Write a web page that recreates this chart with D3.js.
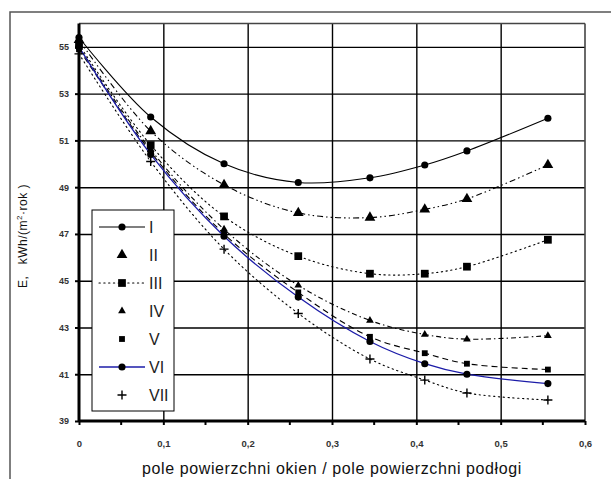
<!DOCTYPE html>
<html>
<head>
<meta charset="utf-8">
<script src="https://cdn.jsdelivr.net/npm/d3@7"></script>
<style>
  body { margin: 0; background: #fff; }
  svg { display: block; }
  text { font-family: Arial, "Liberation Sans", sans-serif; }
</style>
</head>
<body>
<div id="chart"></div>
<script>
// données
const xVals = [0, 0.085, 0.172, 0.26, 0.345, 0.41, 0.46, 0.556];
const seriesNames = ["I", "II", "III", "IV", "V", "VI", "VII"];
const sI   = [55.4, 52.0, 50.0, 49.2, 49.4, 49.95, 50.55, 51.95];
const sII  = [55.3, 51.4, 49.1, 47.9, 47.7, 48.05, 48.5, 49.95];
const sIII = [55.1, 50.8, 47.75, 46.05, 45.3, 45.3, 45.6, 46.75];
const sIV  = [55.0, 50.6, 47.2, 44.8, 43.3, 42.7, 42.5, 42.65];
const sV   = [54.9, 50.5, 47.0, 44.5, 42.6, 41.9, 41.45, 41.2];
const sVI  = [55.0, 50.4, 46.9, 44.3, 42.4, 41.45, 41.0, 40.6];
const sVII = [54.7, 50.1, 46.35, 43.6, 41.65, 40.75, 40.2, 39.9];
const yTicks = [39, 41, 43, 45, 47, 49, 51, 53, 55];
const xTicks = [0, 0.1, 0.2, 0.3, 0.4, 0.5, 0.6];
const xMinor = [0.05, 0.15, 0.25, 0.35, 0.45, 0.55];

const values = [sI, sII, sIII, sIV, sV, sVI, sVII];

// styles par série
const styles = [
  { stroke: "#000", dash: null, marker: "circle", size: 40, legLine: true },
  { stroke: "#000", dash: "6,3,1.5,3,1.5,3", marker: "triangle", size: 50, legLine: false },
  { stroke: "#000", dash: "1.3,3.5", marker: "square", size: 60, legLine: true },
  { stroke: "#000", dash: "5,3,1.5,3", marker: "triangle", size: 26, legLine: false },
  { stroke: "#000", dash: "6,4", marker: "square", size: 34, legLine: false },
  { stroke: "#1c1ca8", dash: null, marker: "circle", size: 40, legLine: true },
  { stroke: "#000", dash: "1.3,3.5", marker: "plus", size: 9, legLine: false }
];

const W = 611, H = 479;
const margin = { left: 79, top: 23.5, right: 26, bottom: 58 };

const svg = d3.select("#chart").append("svg")
  .attr("width", W).attr("height", H);

// cadre extérieur
svg.append("rect")
  .attr("x", 10).attr("y", 12)
  .attr("width", 700).attr("height", 600)
  .attr("fill", "none").attr("stroke", "#555").attr("stroke-width", 1.5);

const x = d3.scaleLinear().domain([0, 0.6]).range([margin.left, W - margin.right]);
const y = d3.scaleLinear().domain([39, 56]).range([H - margin.bottom, margin.top]);

// grille
svg.append("g")
  .attr("transform", `translate(${margin.left},0)`)
  .call(d3.axisLeft(y).tickValues([41, 43, 45, 47, 49, 51, 53, 55])
    .tickSize(-(x(0.6) - x(0))).tickFormat(""))
  .call(g => g.select(".domain").remove())
  .call(g => g.selectAll("line").attr("stroke", "#000").attr("stroke-width", 1.4));

svg.append("g")
  .attr("transform", `translate(0,${y(39)})`)
  .call(d3.axisBottom(x).tickValues([0.1, 0.2, 0.3, 0.4, 0.5])
    .tickSize(-(y(39) - y(56))).tickFormat(""))
  .call(g => g.select(".domain").remove())
  .call(g => g.selectAll("line").attr("stroke", "#000").attr("stroke-width", 1.4));

// bordures haut et droite
svg.append("line")
  .attr("x1", x(0)).attr("x2", x(0.6)).attr("y1", y(56)).attr("y2", y(56))
  .attr("stroke", "#444").attr("stroke-width", 1.6);
svg.append("line")
  .attr("x1", x(0.6)).attr("x2", x(0.6)).attr("y1", y(56)).attr("y2", y(39))
  .attr("stroke", "#444").attr("stroke-width", 1.6);

// axe y
const yAxis = svg.append("g")
  .attr("transform", `translate(${margin.left},0)`)
  .call(d3.axisLeft(y).tickValues(yTicks).tickSize(4).tickSizeOuter(0).tickPadding(6)
    .tickFormat(d => d));
yAxis.select(".domain").attr("stroke", "#000").attr("stroke-width", 3)
  .attr("d", `M0,${y(56)}V${y(39)}`);
yAxis.selectAll("line").attr("stroke-width", 2);
yAxis.selectAll("text").attr("font-size", 9).attr("font-weight", "bold").attr("fill", "#333");

// axe x
const xAxis = svg.append("g")
  .attr("transform", `translate(0,${y(39)})`)
  .call(d3.axisBottom(x).tickValues(xTicks).tickSize(4).tickSizeOuter(0).tickPadding(15)
    .tickFormat(d => d3.format(".1~f")(d).replace(".", ",")));
xAxis.select(".domain").attr("stroke", "#000").attr("stroke-width", 3)
  .attr("d", `M${x(0)},0H${x(0.6)}`);
xAxis.selectAll("line").attr("stroke-width", 2);
xAxis.selectAll("text").attr("font-size", 9.5).attr("font-weight", "bold").attr("fill", "#333");

svg.append("g")
  .selectAll("line")
  .data(xMinor)
  .join("line")
  .attr("x1", d => x(d)).attr("x2", d => x(d))
  .attr("y1", y(39)).attr("y2", y(39) + 4)
  .attr("stroke", "#000").attr("stroke-width", 2);

// titres des axes
svg.append("text")
  .attr("x", (x(0) + x(0.6)) / 2).attr("y", 474)
  .attr("text-anchor", "middle").attr("font-size", 16).attr("letter-spacing", 0.6)
  .attr("fill", "#111")
  .text("pole powierzchni okien / pole powierzchni podłogi");

const yTitle = svg.append("text")
  .attr("transform", "translate(27,236) rotate(-90)")
  .attr("text-anchor", "middle").attr("font-size", 12).attr("letter-spacing", 0.5)
  .attr("fill", "#111")
  .style("white-space", "pre");
yTitle.append("tspan").text("E,   kWh/(m");
yTitle.append("tspan").attr("font-size", 8).attr("dy", -5).text("2");
yTitle.append("tspan").attr("dy", 5).text("·rok )");

// marqueurs
function drawMarker(g, st, cx, cy) {
  if (st.marker === "plus") {
    const h = st.size / 2;
    g.append("path")
      .attr("d", `M${cx - h},${cy}H${cx + h}M${cx},${cy - h}V${cy + h}`)
      .attr("stroke", "#000").attr("stroke-width", 1.4).attr("fill", "none");
  } else {
    const type = st.marker === "circle" ? d3.symbolCircle
      : st.marker === "triangle" ? d3.symbolTriangle : d3.symbolSquare;
    g.append("path")
      .attr("d", d3.symbol().type(type).size(st.size)())
      .attr("transform", `translate(${cx},${cy})`)
      .attr("fill", "#000");
  }
}

// courbes
const line = d3.line()
  .x(d => x(d[0]))
  .y(d => y(d[1]))
  .curve(d3.curveCatmullRom.alpha(0.5));

const plot = svg.append("g");
values.forEach((vals, i) => {
  const st = styles[i];
  const pts = xVals.map((xv, j) => [xv, vals[j]]);
  plot.append("path")
    .datum(pts)
    .attr("d", line)
    .attr("fill", "none")
    .attr("stroke", st.stroke)
    .attr("stroke-width", i === 5 ? 1.3 : 1.1)
    .attr("stroke-dasharray", st.dash)
    .attr("stroke-linecap", st.dash && st.dash.startsWith("1.3") ? "round" : "butt");
});
values.forEach((vals, i) => {
  const g = plot.append("g");
  xVals.forEach((xv, j) => drawMarker(g, styles[i], x(xv), y(vals[j])));
});

// légende
const leg = svg.append("g");
leg.append("rect")
  .attr("x", 92).attr("y", 210).attr("width", 82).attr("height", 201)
  .attr("fill", "#fff").attr("stroke", "#000").attr("stroke-width", 1);

seriesNames.forEach((name, i) => {
  const st = styles[i];
  const ly = 227 + i * 28;
  const g = leg.append("g");
  if (st.legLine) {
    g.append("line")
      .attr("x1", 99).attr("x2", 145).attr("y1", ly).attr("y2", ly)
      .attr("stroke", st.stroke).attr("stroke-width", i === 5 ? 1.3 : 1.1)
      .attr("stroke-dasharray", st.dash)
      .attr("stroke-linecap", st.dash ? "round" : "butt");
  }
  drawMarker(g, st, 122, ly);
  g.append("text")
    .attr("x", 149).attr("y", ly + 6)
    .attr("font-size", 16).attr("fill", "#222")
    .text(name);
});
</script>
</body>
</html>
